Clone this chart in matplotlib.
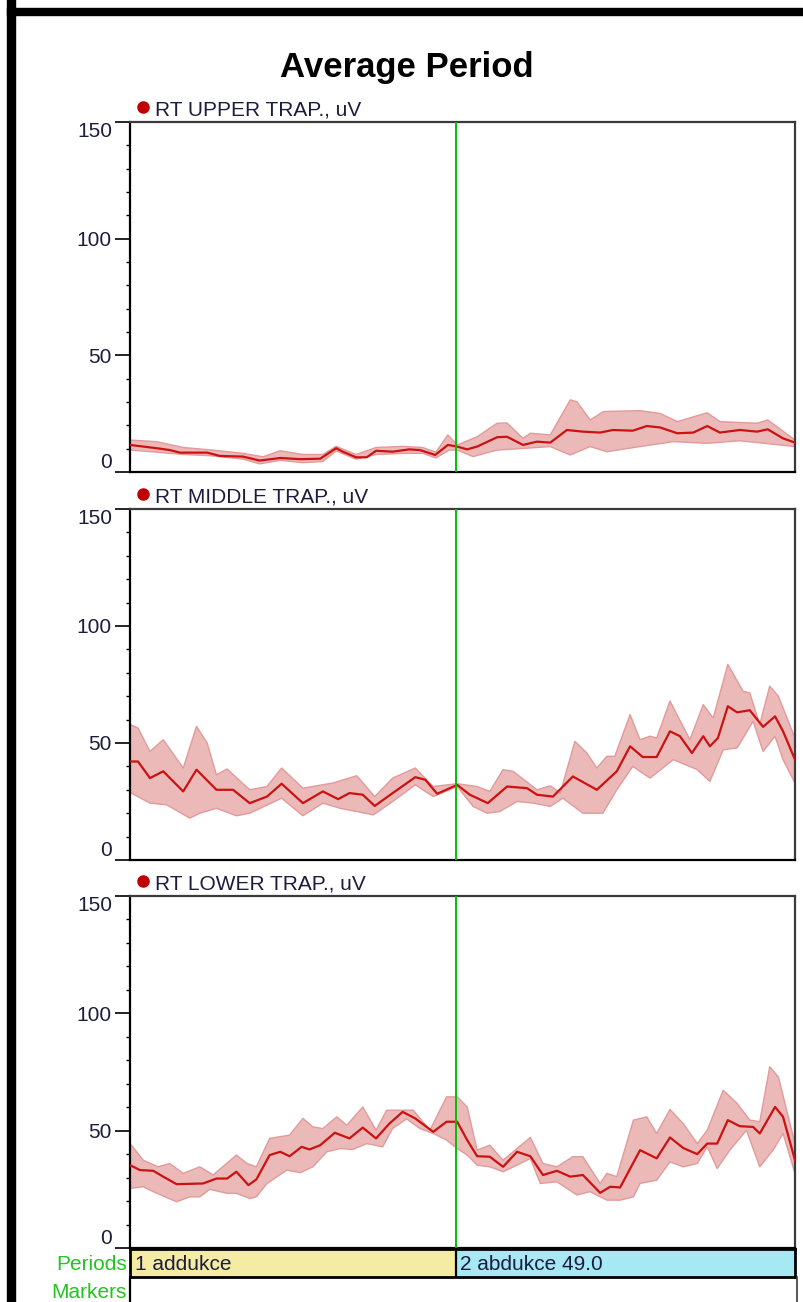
import numpy as np
import matplotlib
matplotlib.use("Agg")
import matplotlib.pyplot as plt
from matplotlib.patches import Rectangle

plt.rcParams['font.family'] = ['Liberation Sans', 'DejaVu Sans']

# ---- data: % of cycle (x) and amplitude in uV ----
up_mean_x = [0, 2, 4, 6, 7.5, 11.6, 13.5, 17, 19.5, 22.6, 25.6, 28.6, 31, 32, 34, 35.6, 37, 39.5, 42, 43.6,
             45.9, 47.8, 49.2, 50.7, 52.2, 55.2, 56.7, 59.1, 61.2, 63.2, 65.7, 68.1, 70.7, 72.6, 75.6, 77.7,
             79.7, 82.3, 84.7, 86.8, 88.7, 91.7, 94.3, 95.9, 98.2, 100]
up_mean = [11.6, 10.9, 10.2, 9.4, 8.3, 8.3, 6.9, 6.6, 4.9, 6.0, 5.5, 5.7, 10.2, 8.7, 6.3, 6.3, 9.1, 8.7, 9.7, 9.4,
           7.3, 11.6, 10.9, 9.7, 10.9, 14.9, 15.1, 11.6, 13.0, 12.6, 18.0, 17.3, 16.9, 18.0, 17.7, 19.7,
           19.1, 16.6, 16.9, 19.7, 16.9, 18.0, 17.3, 18.3, 14.4, 12.6]
up_hi_x = [0, 4, 8, 12, 17, 20, 22.6, 26, 29, 31, 34, 37, 41, 44, 46, 47.8, 49.2, 52.2, 55.2, 56.7,
           59.1, 60.2, 63.2, 66.2, 67.2, 69.2, 71.2, 76.7, 79.7, 82.3, 86.8, 88.7, 94.3, 95.9, 100]
up_hi = [13.7, 13.0, 10.5, 9.5, 8.0, 6.5, 9.1, 7.5, 7.5, 11.0, 7.5, 10.5, 11.0, 10.5, 8.5, 15.9, 11.6, 15.1, 20.9, 21.0,
         14.4, 16.6, 15.9, 30.9, 30.1, 22.3, 25.9, 26.3, 25.1, 21.6, 25.4, 21.6, 20.9, 22.3, 13.7]
up_lo_x = [0, 4, 8, 12, 17, 19.5, 22.6, 26, 29, 31, 34, 37, 41, 44, 46, 48, 49.2, 51.6, 55.2, 59.1,
           63.2, 66.2, 69.2, 71.7, 76.7, 81.7, 86.8, 91.7, 100]
up_lo = [9.4, 8.5, 7.5, 7.0, 5.5, 3.5, 5.0, 4.0, 4.5, 9.0, 5.5, 7.5, 8.0, 8.0, 6.0, 9.4, 9.4, 6.6, 9.4, 10.1,
         10.9, 7.3, 10.9, 8.7, 10.9, 13.0, 12.3, 13.4, 10.9]

mid_mean_x = [0, 1.2, 3, 5, 8, 10, 13, 15.5, 18, 20.6, 22.8, 26, 29, 31.3, 33, 35, 36.8, 39.5, 42.9, 44.4,
              46.2, 49.2, 51.1, 53.8, 56.7, 59.7, 61.2, 63.6, 66.6, 70.2, 73.2, 75.2, 77.1, 79.2, 81.2, 82.7,
              84.5, 86.2, 87.2, 88.4, 89.9, 91.3, 93.2, 95.2, 97, 98.2, 100]
mid_mean = [42.1, 42.1, 35.0, 37.9, 29.3, 38.6, 30.0, 30.0, 24.3, 27.1, 32.6, 24.3, 29.3, 26.0, 28.6, 27.9, 23.1, 28.6,
            35.4, 34.3, 28.3, 32.1, 27.9, 24.3, 31.4, 30.7, 27.9, 27.1, 35.7, 30.0, 37.9, 48.6, 44.0, 44.0, 55.0,
            52.9, 45.7, 52.9, 48.6, 52.1, 65.7, 63.1, 64.0, 56.9, 61.4, 55.0, 42.9]
mid_hi_x = [0, 1.2, 3, 5, 8, 10, 11.6, 13, 14.6, 18, 20.6, 22.8, 26, 30.5, 34.1, 36.8, 39.5, 42.9, 45.6, 49.2,
            52.2, 54.1, 56.1, 57.6, 61.2, 63.2, 64.7, 66.9, 68.7, 70.2, 71.7, 72.9, 75.2, 76.7, 78.2, 79.2,
            81.2, 84.2, 86.2, 87.7, 89.9, 92.2, 93.2, 94.7, 96.2, 97.5, 100]
mid_hi = [57.9, 56.4, 46.4, 51.4, 39.3, 57.1, 50.0, 36.4, 38.9, 30.0, 31.4, 39.3, 30.7, 32.9, 36.0, 27.1, 35.0, 39.3,
          31.4, 32.6, 31.4, 29.3, 38.6, 37.9, 30.0, 31.7, 28.6, 50.7, 45.7, 39.3, 44.3, 44.3, 62.1, 51.4, 52.9,
          52.1, 67.9, 51.4, 66.4, 60.7, 83.6, 72.1, 71.4, 57.9, 74.3, 70.0, 52.1]
mid_lo_x = [0, 3, 5.5, 9, 10.5, 13, 16, 18, 22.8, 26, 29, 31.6, 36.6, 39.5, 42.9, 45.6, 49.2, 51.6, 53.7, 55.6,
            58.2, 60.7, 63.2, 65.1, 68.1, 71.1, 73.2, 75.6, 78.2, 81.7, 85.3, 87.2, 89.2, 91.3, 93.7, 95.2,
            97, 98.2, 100]
mid_lo = [28.9, 24.3, 23.6, 17.9, 20.0, 22.1, 18.9, 20.0, 26.4, 18.9, 24.3, 22.1, 19.3, 25.0, 32.1, 27.1, 31.4, 22.9,
          20.0, 20.7, 25.0, 24.3, 22.9, 26.4, 20.0, 20.0, 30.0, 40.0, 35.0, 42.9, 38.6, 33.6, 47.1, 47.9, 59.3,
          46.4, 52.9, 42.9, 32.9]

low_mean_x = [0, 1.5, 3.5, 5, 7, 11, 13, 14.6, 16, 17.8, 19, 21, 22.6, 24, 25.8, 27, 28.6, 30.8, 33, 35,
              37, 39, 41, 42.9, 45.6, 47.6, 49.2, 50.7, 52.2, 54.1, 56.1, 58.2, 60.2, 62.1, 64.2, 66.2, 68.1,
              70.7, 72.2, 73.7, 76.7, 79.2, 81.2, 83.2, 85.3, 86.8, 88.3, 89.9, 91.7, 93.7, 94.7, 97, 98.2, 100]
low_mean = [35.3, 33.2, 32.9, 30.4, 27.2, 27.5, 29.6, 29.6, 32.5, 26.8, 29.2, 39.6, 41.0, 39.1, 43.1, 42.0, 43.8,
            49.1, 46.7, 51.3, 46.7, 53.0, 58.0, 55.2, 49.5, 53.8, 53.8, 46.0, 39.1, 38.9, 34.6, 41.0, 39.1, 31.1,
            32.9, 30.4, 31.1, 23.5, 26.1, 25.8, 41.7, 38.2, 47.1, 42.6, 40.0, 44.5, 44.5, 54.5, 51.9, 51.6, 48.8,
            60.1, 55.9, 37.4]
low_hi_x = [0, 2, 4.2, 6, 8, 10.5, 12.5, 16, 17.6, 19, 21, 24, 26, 27.5, 29, 31.1, 32.6, 35, 37, 38.6,
            42.6, 45.1, 47.6, 49.2, 50.7, 52.2, 54.1, 56.1, 60.2, 62.1, 64.2, 66.6, 68.1, 70.7, 71.7, 73.2,
            75.7, 77.7, 79.2, 81.2, 83.2, 85.3, 86.8, 89.2, 91.3, 93.2, 94.7, 96.2, 97.5, 100]
low_hi = [44.5, 37.4, 34.6, 36.0, 31.8, 34.6, 31.1, 39.6, 36.0, 34.6, 46.7, 48.1, 55.2, 51.6, 50.9, 55.9, 52.3,
          60.1, 50.2, 58.7, 58.7, 50.2, 64.4, 64.4, 60.1, 41.7, 43.8, 37.4, 47.1, 36.0, 34.6, 38.9, 38.9, 27.5,
          31.8, 30.4, 54.5, 55.9, 48.8, 59.0, 53.0, 44.5, 50.2, 67.2, 61.6, 54.5, 53.8, 77.2, 72.9, 44.5]
low_lo_x = [0, 2, 3.5, 7, 9, 10.5, 12, 14.6, 16, 18, 19, 20.6, 23.6, 25.6, 27.5, 29.6, 31.6, 33.5, 35.6, 38,
            39.5, 41.6, 43.6, 45.6, 47.6, 49.2, 50.7, 52.2, 54.1, 56.1, 58.2, 60.2, 61.7, 64.2, 67.2, 69.2,
            71.7, 73.7, 75.7, 76.7, 79.2, 81.2, 83.2, 85.3, 86.8, 88.3, 90.2, 92.7, 94.7, 96.7, 98.2, 100]
low_lo = [25.4, 26.1, 24.0, 19.7, 21.8, 21.8, 25.0, 23.3, 23.3, 21.1, 21.8, 27.5, 33.2, 32.1, 34.6, 41.0, 42.4,
          42.0, 44.5, 43.1, 51.0, 55.0, 50.9, 48.8, 46.0, 42.4, 39.6, 35.3, 34.6, 32.5, 35.3, 38.2, 27.5, 28.2,
          22.6, 24.0, 20.4, 20.4, 21.8, 27.5, 28.9, 36.7, 34.6, 36.0, 43.1, 33.9, 41.7, 50.2, 34.6, 41.7, 48.8,
          31.8]

channels = ["RT UPPER TRAP., uV", "RT MIDDLE TRAP., uV", "RT LOWER TRAP., uV"]
period_split = 49.0
period_names = ["1 addukce", "2 abdukce 49.0"]

series = [
    (up_mean_x, up_mean, up_hi_x, up_hi, up_lo_x, up_lo),
    (mid_mean_x, mid_mean, mid_hi_x, mid_hi, mid_lo_x, mid_lo),
    (low_mean_x, low_mean, low_hi_x, low_hi, low_lo_x, low_lo),
]

W, H = 804, 1302
fig = plt.figure(figsize=(W / 100, H / 100), dpi=100)

def fx(px):
    return px / W

def fy(py):
    return 1 - py / H

# black frame of the window
fig.patches.append(Rectangle((fx(7), fy(H + 5)), fx(8), fy(-5) - fy(H + 5) + 1,
                             transform=fig.transFigure, color='black', zorder=0))
fig.patches.append(Rectangle((fx(7), fy(15)), 1, fy(8) - fy(15),
                             transform=fig.transFigure, color='black', zorder=0))

fig.text(fx(407), fy(68), "Average Period", ha='center', va='center',
         fontsize=25, fontweight='bold', color='black')

tick_col = '#1c1c3c'
panel_px = [(122, 472), (509, 860), (896, 1248)]
left, right = 130, 795

for (top, bot), name, (mx, my, hx, hy, lx, ly) in zip(panel_px, channels, series):
    ax = fig.add_axes([fx(left), fy(bot), fx(right - left), (bot - top) / H])
    ax.fill(np.r_[hx, lx[::-1]], np.r_[hy, ly[::-1]], color='#ecb9b9', lw=0, zorder=1)
    ax.plot(hx, hy, color='#e29a9a', lw=1.0, zorder=2)
    ax.plot(lx, ly, color='#e29a9a', lw=1.0, zorder=2)
    ax.plot(mx, my, color='#cc1111', lw=1.6, zorder=3)
    ax.axvline(period_split, color='#00c000', lw=1.4, zorder=4)
    ax.set_xlim(0, 100)
    ax.set_ylim(0, 150)
    ax.set_xticks([])
    ax.set_yticks([0, 50, 100, 150])
    ax.set_yticks(np.arange(10, 150, 10), minor=True)
    ax.tick_params(axis='y', which='major', direction='out', length=11, width=1.2,
                   labelsize=15, labelcolor=tick_col, pad=2)
    ax.tick_params(axis='y', which='minor', direction='out', length=3, width=1.0)
    labels = ax.get_yticklabels()
    labels[0].set_va('bottom')
    labels[-1].set_va('top')
    for s in ['left', 'bottom']:
        ax.spines[s].set_color('black')
        ax.spines[s].set_linewidth(1.6)
    for s in ['top', 'right']:
        ax.spines[s].set_color('#3a3a3a')
        ax.spines[s].set_linewidth(1.6)
    ax.plot([0.0195], [1.043], 'o', ms=8, color='#c00000', transform=ax.transAxes, clip_on=False)
    ax.text(0.038, 1.008, name, transform=ax.transAxes, ha='left', va='bottom',
            fontsize=15, color='#1c1c3c')

# periods bar
pax = fig.add_axes([fx(left), fy(1277), fx(right - left), 28 / H])
pax.axvspan(0, period_split, color='#f5eca3', lw=0)
pax.axvspan(period_split, 100, color='#a6e9f2', lw=0)
pax.axvline(period_split, color='black', lw=1.6)
pax.set_xlim(0, 100)
pax.set_ylim(0, 1)
pax.set_xticks([])
pax.set_yticks([])
for s in pax.spines.values():
    s.set_color('black')
    s.set_linewidth(2)
pax.text(0.8, 0.45, period_names[0], ha='left', va='center', fontsize=15, color='#1c1c3c')
pax.text(period_split + 0.6, 0.45, period_names[1], ha='left', va='center', fontsize=15, color='#1c1c3c')

# markers row
max_ = fig.add_axes([fx(left), 0, fx(right + 2 - left), fy(1277)])
max_.set_xticks([])
max_.set_yticks([])
max_.patch.set_alpha(0)
for s in ['top', 'bottom']:
    max_.spines[s].set_visible(False)
max_.spines['left'].set_linewidth(1.6)
max_.spines['right'].set_linewidth(1.2)
max_.spines['right'].set_color('#3a3a3a')

fig.text(fx(127), fy(1264), "Periods", ha='right', va='center', fontsize=15, color='#22c422')
fig.text(fx(127), fy(1292), "Markers", ha='right', va='center', fontsize=15, color='#22c422')

fig.savefig("out.png", dpi=100)
